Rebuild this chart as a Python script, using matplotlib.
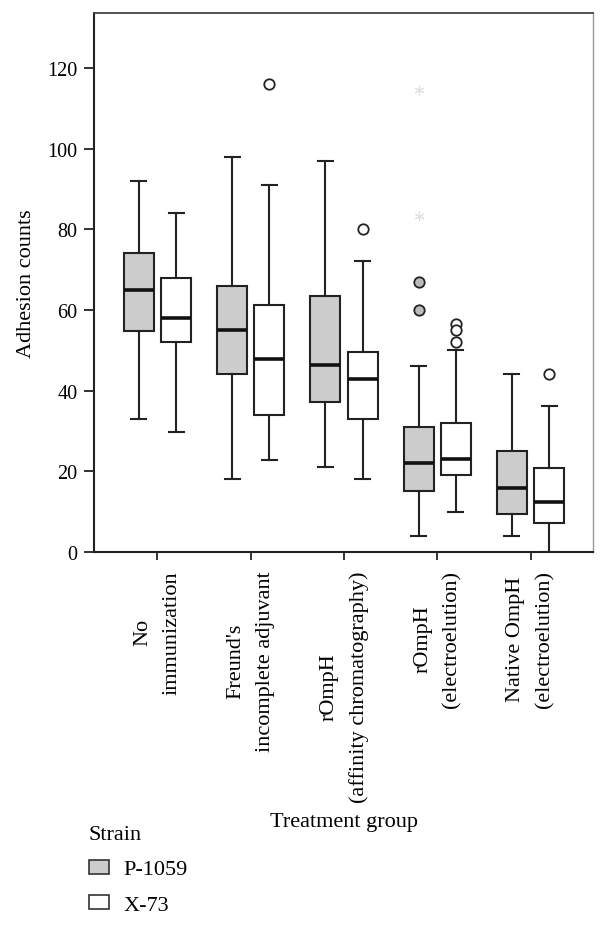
import matplotlib
matplotlib.use("Agg")
import matplotlib.pyplot as plt
from matplotlib.patches import Patch

plt.rcParams['font.family'] = ['Liberation Serif', 'DejaVu Serif']

# Grupos de tratamento
groups = ["No\nimmunization",
          "Freund's\nincomplete adjuvant",
          "rOmpH\n(affinity chromatography)",
          "rOmpH\n(electroelution)",
          "Native OmpH\n(electroelution)"]

# Estatísticas (P-1059)
p_whislo = [33, 18, 21, 4, 4]
p_q1 = [54.8, 44, 37.1, 15, 9.3]
p_med = [65, 55, 46.4, 22.1, 15.9]
p_q3 = [74.1, 66, 63.5, 31, 25]
p_whishi = [92, 98, 97, 46, 44]
p_fliers = [[], [], [], [67, 60], []]
p_extremes = [[], [], [], [114.4, 83.2], []]

# Estatísticas (X-73)
x_whislo = [29.8, 22.8, 18, 10, 0]
x_q1 = [52.1, 34, 33, 19, 7.3]
x_med = [58.1, 47.8, 43, 23.1, 12.5]
x_q3 = [68, 61.1, 49.5, 32, 20.9]
x_whishi = [84, 91, 72.2, 50, 36.3]
x_fliers = [[], [116], [80], [56.5, 55, 52], [44]]

yticks = [0, 20, 40, 60, 80, 100, 120]


def make_stats(lo, q1, med, q3, hi, fl):
    return [dict(whislo=a, q1=b, med=c, q3=d, whishi=e, fliers=f)
            for a, b, c, d, e, f in zip(lo, q1, med, q3, hi, fl)]


fig = plt.figure(figsize=(6.08, 9.28), dpi=100)
ax = fig.add_axes([94 / 608, 1 - 553 / 928, 499 / 608, 539 / 928])

pos = list(range(1, len(groups) + 1))
edge = '#222222'
common = dict(widths=0.32, patch_artist=True,
              whiskerprops=dict(color=edge, linewidth=1.5),
              capprops=dict(color=edge, linewidth=1.5),
              medianprops=dict(color='#111111', linewidth=2.6),
              capwidths=0.16)

ax.bxp(make_stats(p_whislo, p_q1, p_med, p_q3, p_whishi, p_fliers),
       positions=[p - 0.2 for p in pos],
       boxprops=dict(facecolor='#cccccc', edgecolor=edge, linewidth=1.5),
       flierprops=dict(marker='o', markerfacecolor='#bbbbbb',
                       markeredgecolor=edge, markersize=7.5, markeredgewidth=1.3),
       **common)
ax.bxp(make_stats(x_whislo, x_q1, x_med, x_q3, x_whishi, x_fliers),
       positions=[p + 0.2 for p in pos],
       boxprops=dict(facecolor='white', edgecolor=edge, linewidth=1.5),
       flierprops=dict(marker='o', markerfacecolor='white',
                       markeredgecolor=edge, markersize=7.5, markeredgewidth=1.3),
       **common)

# Valores extremos (asteriscos claros)
for p, ext in zip(pos, p_extremes):
    if ext:
        ax.plot([p - 0.2] * len(ext), ext, linestyle='none',
                marker=(6, 2, 0), color='#e0e0e0', markersize=7, markeredgewidth=0.8)

ax.set_xlim(0.32, 5.67)
ax.set_ylim(0, 133.6)
ax.set_yticks(yticks)
ax.set_xticks(pos)
ax.set_xticklabels(groups, rotation=90, ha='center', va='top',
                   multialignment='center', linespacing=1.7, fontsize=16)
ax.tick_params(axis='y', labelsize=14.5, length=7, width=1.3, color=edge, pad=5)
ax.tick_params(axis='x', length=6, width=1.3, color=edge, pad=7)

for s in ['left', 'bottom']:
    ax.spines[s].set_color(edge)
    ax.spines[s].set_linewidth(1.5)
ax.spines['top'].set_color('#444444')
ax.spines['top'].set_linewidth(1.3)
ax.spines['right'].set_color('#999999')
ax.spines['right'].set_linewidth(1.0)

ax.set_ylabel('Adhesion counts', fontsize=16, labelpad=8)
fig.text(344 / 608, 1 - 823 / 928, 'Treatment group', fontsize=16,
         ha='center', va='center')

handles = [Patch(facecolor='#cccccc', edgecolor='#333333', linewidth=1.2),
           Patch(facecolor='white', edgecolor='#333333', linewidth=1.2)]
leg = fig.legend(handles, ['P-1059', 'X-73'], title='Strain', loc='upper left',
                 bbox_to_anchor=(89 / 608, 1 - 826 / 928), frameon=False,
                 fontsize=16, title_fontsize=16, alignment='left',
                 handlelength=0.9, handleheight=0.6, handletextpad=0.65,
                 labelspacing=0.7, borderpad=0, borderaxespad=0)

fig.savefig('out.png', dpi=100)
